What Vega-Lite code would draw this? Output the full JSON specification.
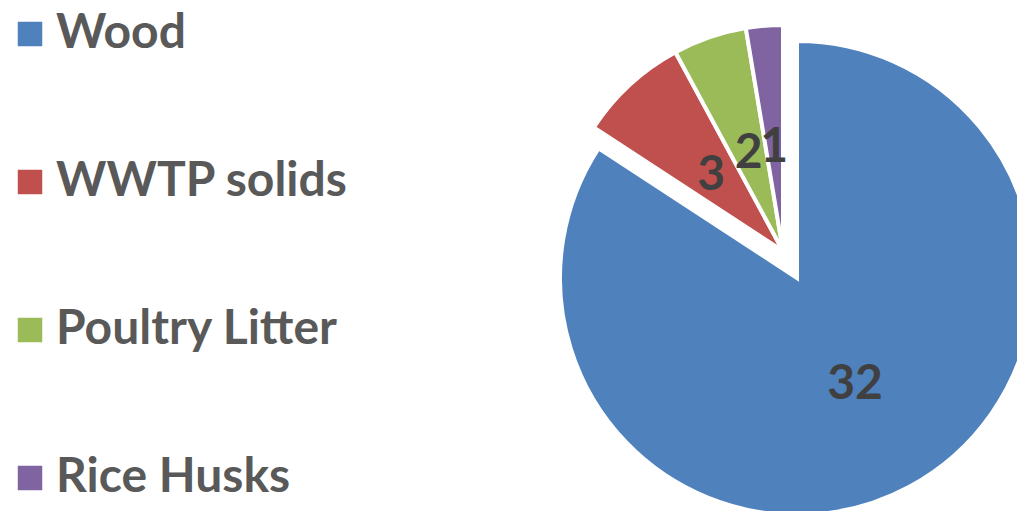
{
  "$schema": "https://vega.github.io/schema/vega-lite/v6.json",
  "width": 468,
  "height": 502,
  "autosize": {"type": "none"},
  "padding": {"left": 549, "top": 0, "right": 0, "bottom": 9},
  "background": "white",
  "config": {"view": {"stroke": null}},
  "data": {
    "values": [
      {"source": "Wood", "value": 32, "idx": 1},
      {"source": "WWTP solids", "value": 3, "idx": 2},
      {"source": "Poultry Litter", "value": 2, "idx": 3},
      {"source": "Rice Husks", "value": 1, "idx": 4}
    ]
  },
  "encoding": {
    "theta": {"field": "value", "type": "quantitative", "stack": true},
    "order": {"field": "idx", "type": "quantitative"},
    "color": {
      "field": "source",
      "type": "nominal",
      "scale": {
        "domain": ["Wood", "WWTP solids", "Poultry Litter", "Rice Husks"],
        "range": ["#4F81BD", "#C0504D", "#9BBB59", "#8064A2"]
      },
      "legend": {
        "orient": "none",
        "legendX": -543,
        "legendY": 10,
        "title": null,
        "symbolType": "square",
        "symbolSize": 600,
        "symbolStrokeWidth": 0,
        "symbolOpacity": 1,
        "labelFont": "Lato",
        "labelFontWeight": "bold",
        "labelFontSize": 48,
        "labelColor": "#595959",
        "labelOffset": 2,
        "labelLimit": 500,
        "rowPadding": 100,
        "padding": 0
      }
    }
  },
  "layer": [
    {
      "mark": {"type": "arc", "outerRadius": 237, "xOffset": 14, "yOffset": 27, "stroke": "white", "strokeWidth": 4},
      "encoding": {
        "opacity": {"condition": {"test": "datum.source === 'Wood'", "value": 1}, "value": 0}
      }
    },
    {
      "mark": {"type": "arc", "outerRadius": 226, "stroke": "white", "strokeWidth": 4},
      "encoding": {
        "opacity": {"condition": {"test": "datum.source !== 'Wood'", "value": 1}, "value": 0}
      }
    },
    {
      "mark": {"type": "text", "radius": 122, "xOffset": 14, "yOffset": 27, "font": "Lato", "fontWeight": "bold", "fontSize": 48},
      "encoding": {
        "text": {"field": "value", "type": "quantitative"},
        "color": {"value": "#404040"},
        "opacity": {"condition": {"test": "datum.source === 'Wood'", "value": 1}, "value": 0}
      }
    },
    {
      "mark": {"type": "text", "radius": 106, "dy": 3, "font": "Lato", "fontWeight": "bold", "fontSize": 48},
      "encoding": {
        "text": {"field": "value", "type": "quantitative"},
        "color": {"value": "#404040"},
        "opacity": {"condition": {"test": "datum.source !== 'Wood'", "value": 1}, "value": 0}
      }
    }
  ]
}
